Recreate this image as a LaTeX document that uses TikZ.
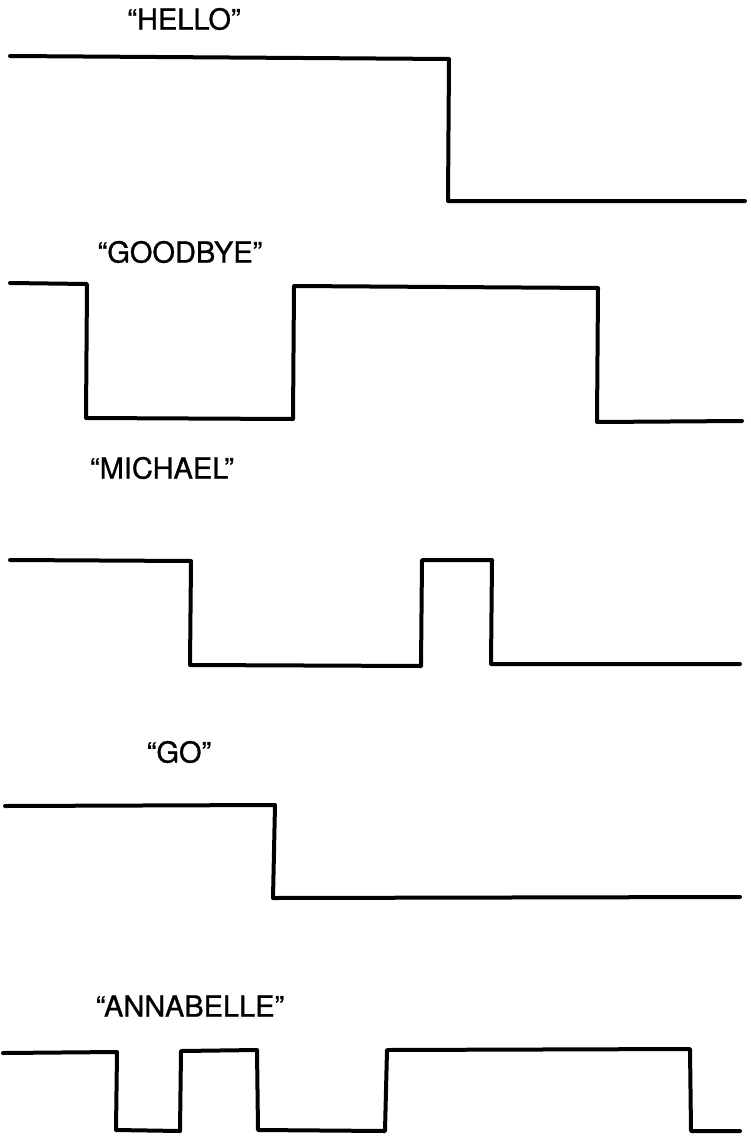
\documentclass[tikz,border=0pt]{standalone}
\usepackage{fontspec}
\setmainfont{TeX Gyre Heros}
\newfontfamily\lblfont[FakeBold=1]{TeX Gyre Heros}
\begin{document}
\begin{tikzpicture}[x=1pt,y=-1pt,
  wave/.style={line width=4pt,line join=round,line cap=round,black},
  lbl/.style={font=\lblfont\fontsize{29}{32}\selectfont,inner sep=0pt,anchor=center}]
\useasboundingbox (0,0) rectangle (751,1145);
% HELLO
\node[lbl] (t1) at (184,19) {“HELLO”};
\draw[wave] (10,56) -- (449,59) -- (448,201) -- (745,201);
% GOODBYE
\node[lbl] (t2) at (180,252) {“GOODBYE”};
\draw[wave] (10,283) -- (87,284) -- (86,418) -- (293,419) -- (294,286) -- (598,288) -- (597,422) -- (742,421);
% MICHAEL
\node[lbl] (t3) at (162,468) {“MICHAEL”};
\draw[wave] (10,560) -- (191,561) -- (190,665) -- (421,666) -- (422,560) -- (492,560) -- (491,664) -- (740,664);
% GO
\node[lbl] (t4) at (179,752) {“GO”};
\draw[wave] (5,806) -- (275,805) -- (273,898) -- (740,897);
% ANNABELLE
\node[lbl] (t5) at (190,1006) {“ANNABELLE”};
\draw[wave] (3,1053) -- (117,1052) -- (116,1130) -- (180,1131) -- (181,1051) -- (257,1050) -- (258,1130) -- (385,1131) -- (387,1050) -- (690,1049) -- (691,1131) -- (740,1131);
\end{tikzpicture}
\end{document}
